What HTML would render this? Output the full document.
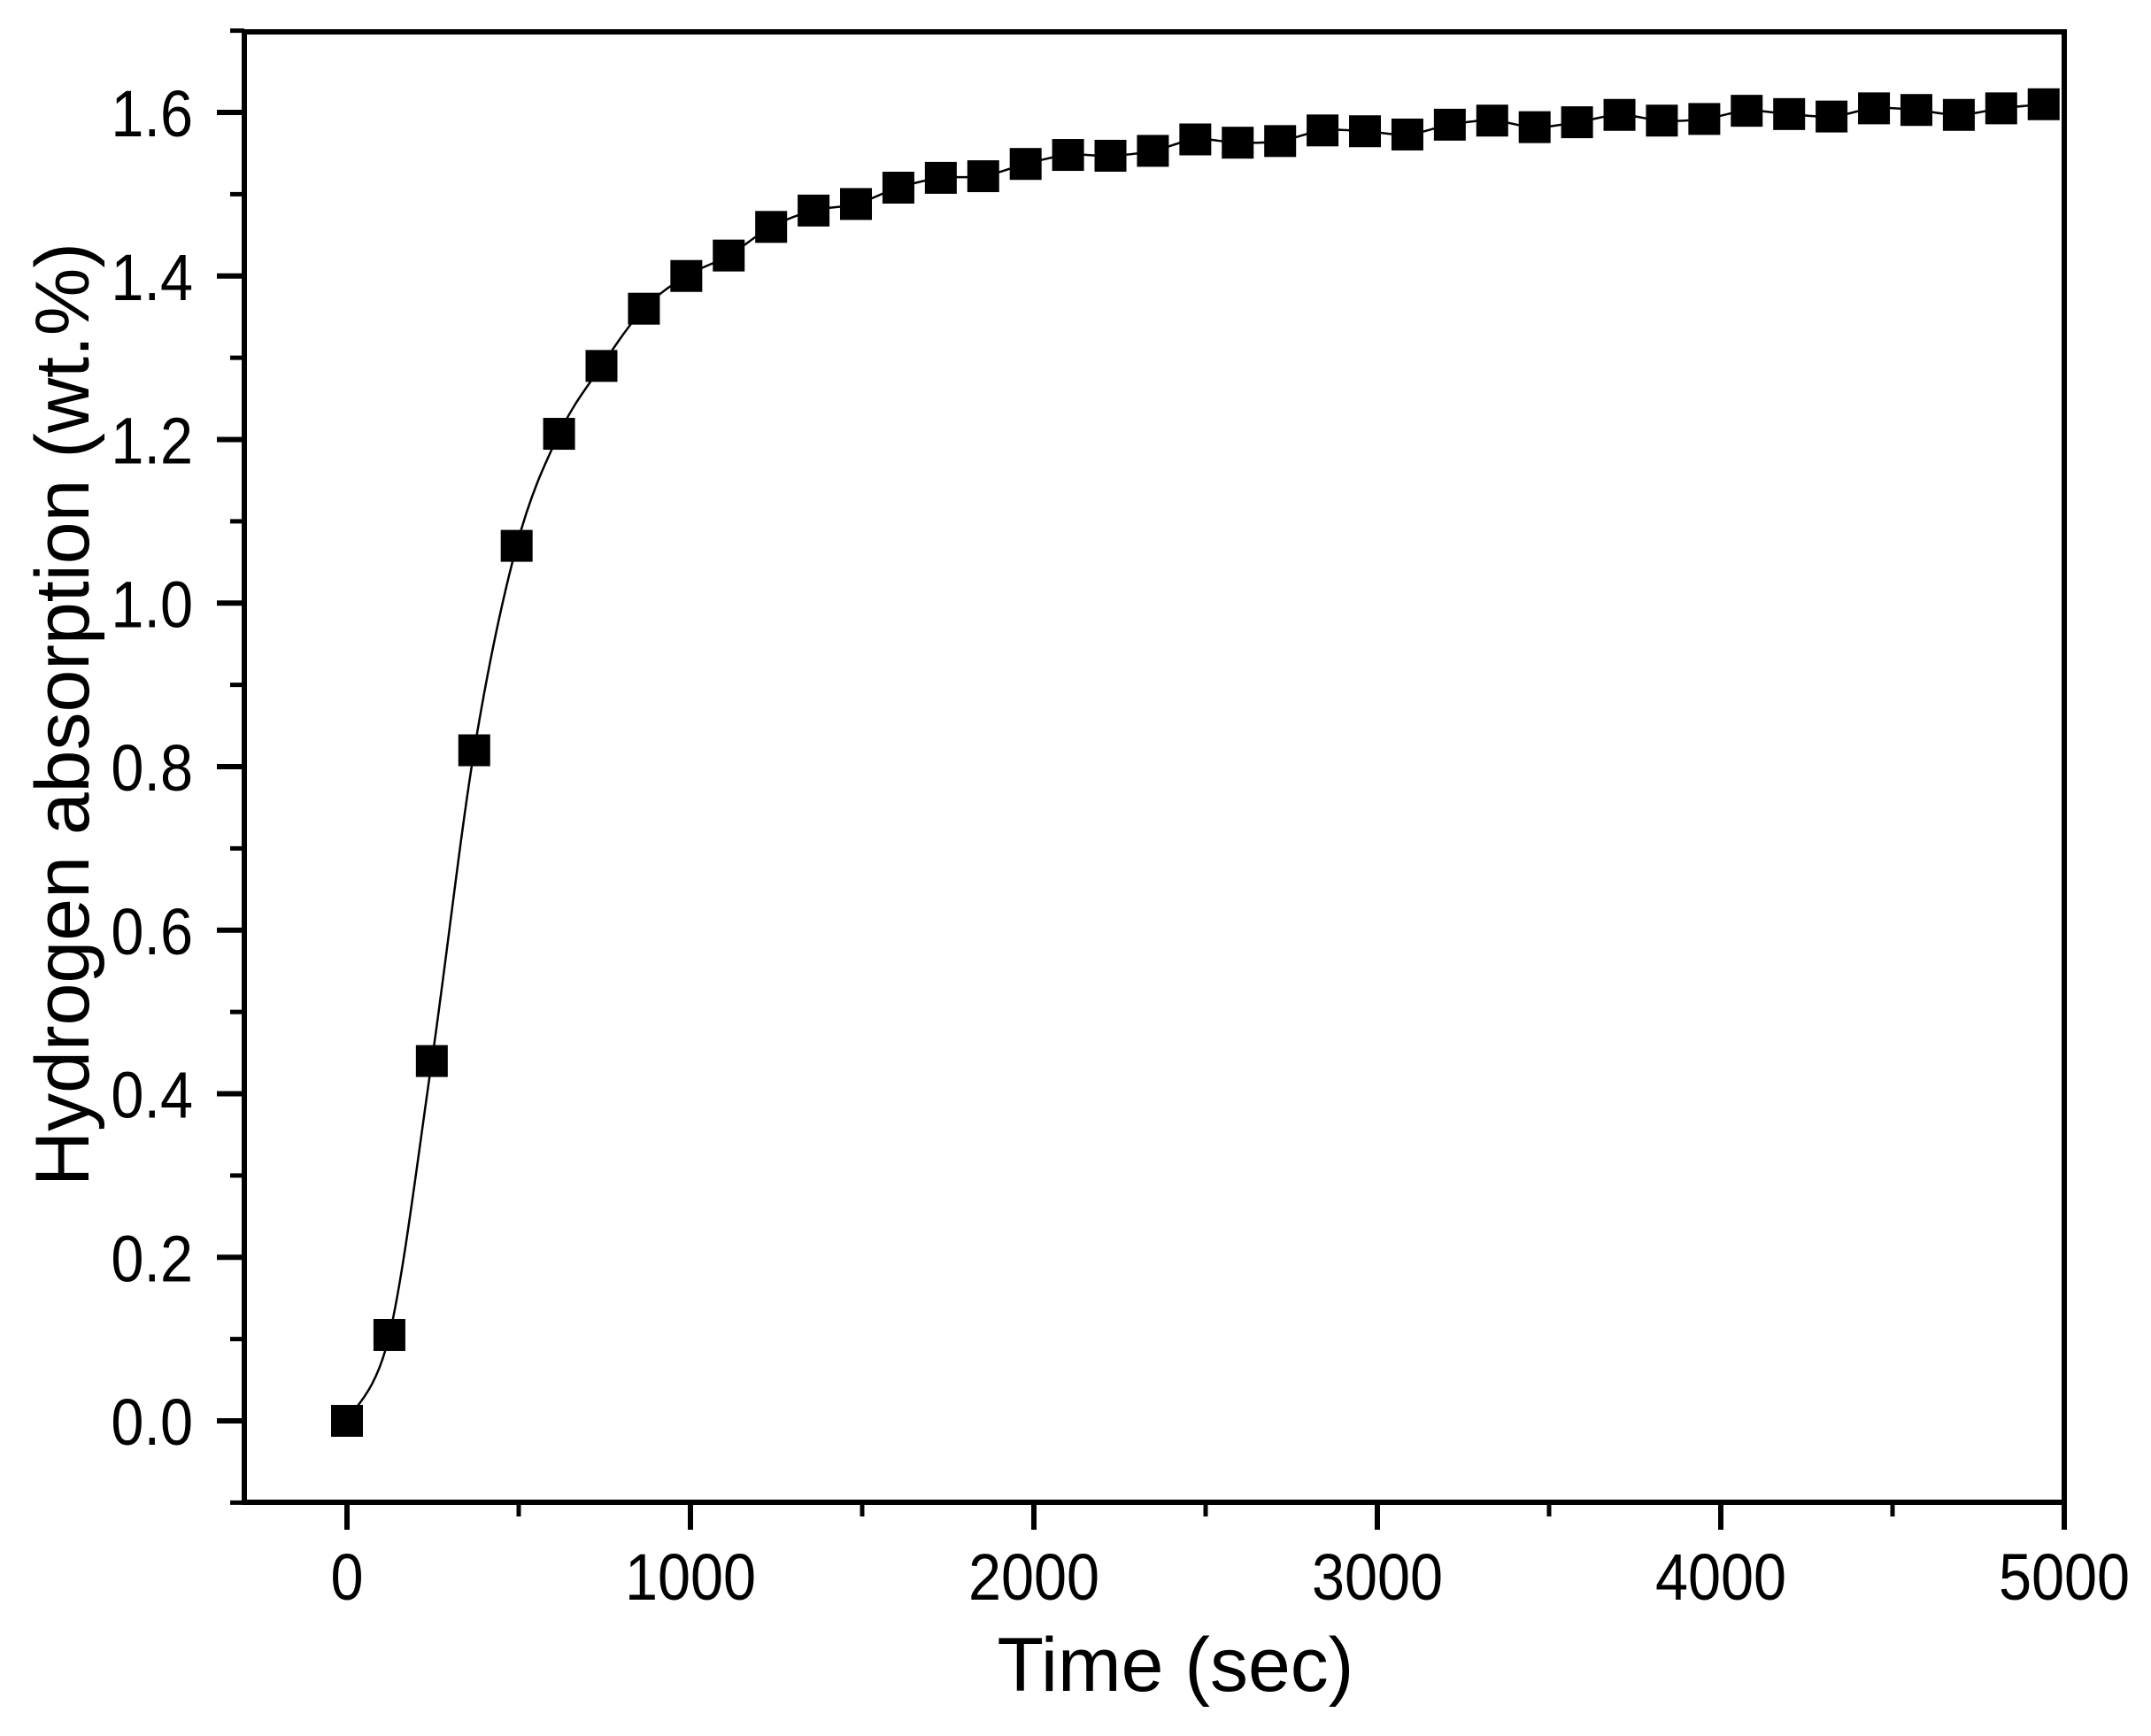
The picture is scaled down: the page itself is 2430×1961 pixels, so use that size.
<!DOCTYPE html>
<html><head><meta charset="utf-8"><style>
html,body{margin:0;padding:0;background:#fff;}
svg{display:block;font-family:"Liberation Sans",Arial,sans-serif;}
</style></head><body>
<svg id="chart" width="2430" height="1961" viewBox="0 0 2430 1961" xmlns="http://www.w3.org/2000/svg">
<rect width="2430" height="1961" fill="#fff"/>
<g id="marks"></g>
<g id="axes"></g>
<text x="1328" y="1910" font-size="86" text-anchor="middle">Time (sec)</text>
<text transform="translate(100,807) rotate(-90)" font-size="86" text-anchor="middle">Hydrogen absorption (wt.%)</text>
</svg>
<script>
const timeStep = 123.5;
const absorption = [0, 0.105, 0.44, 0.82, 1.07, 1.207, 1.29, 1.36, 1.40, 1.425, 1.46, 1.48, 1.488, 1.508, 1.52, 1.522, 1.537, 1.548, 1.547, 1.553, 1.567, 1.563, 1.565, 1.578, 1.577, 1.573, 1.585, 1.59, 1.582, 1.588, 1.597, 1.59, 1.592, 1.602, 1.598, 1.595, 1.605, 1.603, 1.597, 1.605, 1.61];
const xTicks = [0, 1000, 2000, 3000, 4000, 5000];
const xMinor = [500, 1500, 2500, 3500, 4500];
const yTicks = [0.0, 0.2, 0.4, 0.6, 0.8, 1.0, 1.2, 1.4, 1.6];
const yMinor = [-0.1, 0.1, 0.3, 0.5, 0.7, 0.9, 1.1, 1.3, 1.5, 1.7];

const NS = "http://www.w3.org/2000/svg";
const L = 276, R = 2332, T = 36, B = 1697;
const sx = v => 392 + v * (2332 - 392) / 5000;
const sy = v => 1605 - v * (1605 - 127) / 1.6;
function mk(tag, attrs, parent) {
  const e = document.createElementNS(NS, tag);
  for (const k in attrs) e.setAttribute(k, attrs[k]);
  parent.appendChild(e);
  return e;
}
const marks = document.getElementById('marks');
const axes = document.getElementById('axes');

const pts = absorption.map((v, i) => [sx(i * timeStep), sy(v)]);
let d = `M${pts[0][0]},${pts[0][1]}`;
for (let i = 0; i < pts.length - 1; i++) {
  const p0 = pts[Math.max(0, i - 1)], p1 = pts[i], p2 = pts[i + 1], p3 = pts[Math.min(pts.length - 1, i + 2)];
  const c1 = [p1[0] + (p2[0] - p0[0]) / 6, p1[1] + (p2[1] - p0[1]) / 6];
  const c2 = [p2[0] - (p3[0] - p1[0]) / 6, p2[1] - (p3[1] - p1[1]) / 6];
  d += ` C${c1[0]},${c1[1]} ${c2[0]},${c2[1]} ${p2[0]},${p2[1]}`;
}
const line = mk('path', {d: d, fill: 'none', stroke: '#000', 'stroke-width': 2.5}, marks);


absorption.forEach((v, i) => {
  const r = mk('rect', {x: sx(i * timeStep) - 18, y: sy(v) - 18, width: 36, height: 36, fill: '#000'}, marks);
  
  
});

const frame = mk('rect', {x: L, y: T, width: R - L, height: B - T, fill: 'none', stroke: '#000', 'stroke-width': 6}, axes);



xTicks.forEach(v => {
  const t = mk('line', {x1: sx(v), x2: sx(v), y1: B, y2: B + 31, stroke: '#000', 'stroke-width': 6}, axes);
  
  
  const lb = mk('text', {transform: `translate(${sx(v)},1807) scale(0.9,1)`, 'font-size': 74, 'text-anchor': 'middle'}, axes);
  lb.textContent = String(v);
  
  
});
xMinor.forEach(v => {
  const t = mk('line', {x1: sx(v), x2: sx(v), y1: B, y2: B + 16, stroke: '#000', 'stroke-width': 5}, axes);
  
  
});
yTicks.forEach(v => {
  const t = mk('line', {x1: L - 31, x2: L, y1: sy(v), y2: sy(v), stroke: '#000', 'stroke-width': 6}, axes);
  
  
  const lb = mk('text', {transform: `translate(218,${sy(v) + 27}) scale(0.9,1)`, 'font-size': 74, 'text-anchor': 'end'}, axes);
  lb.textContent = v.toFixed(1);
  
  
});
yMinor.forEach(v => {
  const t = mk('line', {x1: L - 16, x2: L, y1: sy(v), y2: sy(v), stroke: '#000', 'stroke-width': 5}, axes);
  
  
});
</script>
</body></html>
